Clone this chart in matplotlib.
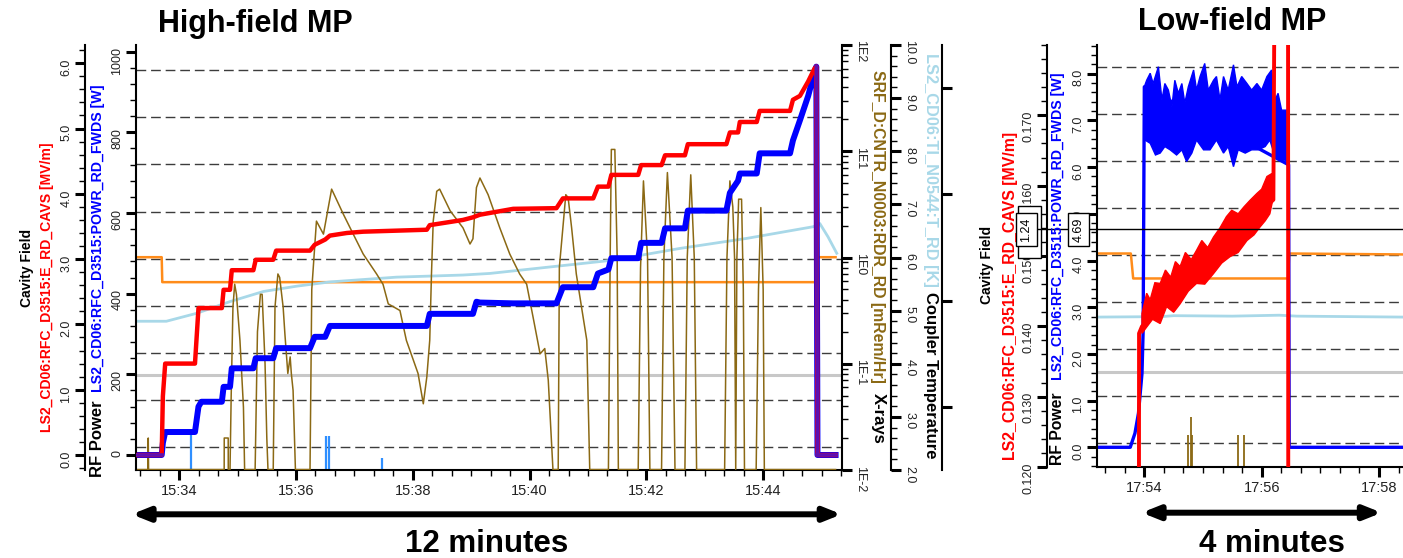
import numpy as np
import matplotlib.pyplot as plt
from matplotlib.lines import Line2D
from matplotlib.patches import FancyArrowPatch, Rectangle
from matplotlib.ticker import (MultipleLocator, FixedLocator, FuncFormatter,
                               LogLocator, NullFormatter, NullLocator)

plt.rcParams['font.family'] = ['Liberation Sans', 'DejaVu Sans']

# ---------------- High-field MP (time in minutes after 15:00) ----------------
hf_time = [33.27, 33.70, 33.72, 33.76, 34.27, 34.33, 34.38, 34.73, 34.76, 34.87, 34.90, 35.27, 35.31,
           35.61, 35.66, 36.24, 36.32, 36.50, 36.58, 36.87, 37.15, 38.24, 38.29, 38.86, 39.03, 39.09,
           39.15, 39.72, 40.46, 40.57, 41.09, 41.17, 41.35, 41.40, 41.86, 41.91, 42.26, 42.32, 42.66,
           42.71, 43.37, 43.43, 43.57, 43.60, 43.89, 43.94, 44.46, 44.51, 44.63, 44.77, 44.88, 44.91,
           44.93, 45.24]
hf_field = [0, 0, 0.9, 1.40, 1.40, 2.25, 2.25, 2.25, 2.53, 2.53, 2.83, 2.83, 2.99,
            2.99, 3.13, 3.13, 3.22, 3.30, 3.36, 3.40, 3.42, 3.45, 3.52, 3.60, 3.64, 3.66,
            3.68, 3.77, 3.78, 3.93, 3.93, 4.11, 4.11, 4.29, 4.29, 4.44, 4.44, 4.59, 4.59,
            4.76, 4.76, 4.94, 4.94, 5.10, 5.10, 5.27, 5.27, 5.44, 5.50, 5.72, 5.92, 5.95,
            0, 0]                                            # MV/m
hf_power = [0, 0, 30, 57, 57, 120, 132, 132, 169, 169, 215, 215, 240,
            240, 265, 265, 293, 293, 320, 320, 320, 320, 350, 350, 350, 380,
            378, 376, 376, 416, 416, 450, 460, 488, 488, 526, 526, 562, 562,
            606, 606, 650, 680, 698, 698, 748, 748, 780, 830, 890, 950, 963,
            0, 0]                                            # W

XRAY_FLOOR = 0.0101
B = XRAY_FLOOR
hf_xray_time = [33.27, 33.465, 33.47, 33.475, 34.77, 34.771, 34.839, 34.84,
                34.87, 34.89, 34.92, 34.95, 34.98, 35.04, 35.10, 35.12,
                35.30, 35.34, 35.39, 35.42, 35.47, 35.50, 35.52,
                35.61, 35.64, 35.69, 35.72, 35.78, 35.81, 35.86, 35.90, 35.92, 35.95, 35.99,
                36.24, 36.27, 36.35, 36.47, 36.61, 36.81, 36.98, 37.15, 37.38, 37.49, 37.58,
                37.78, 37.89, 38.01, 38.09, 38.18, 38.24, 38.29, 38.32, 38.35, 38.41, 38.46,
                38.64, 38.86, 38.98, 39.03, 39.09, 39.15, 39.29, 39.49, 39.66, 39.83, 39.95,
                40.06, 40.18, 40.26, 40.32, 40.40,
                40.49, 40.51, 40.57, 40.62, 40.66, 40.72, 40.80, 40.89, 40.98, 41.03,
                41.35, 41.38, 41.40, 41.46, 41.50, 41.52,
                41.86, 41.90, 41.95, 42.02, 42.06,
                42.26, 42.30, 42.36, 42.44, 42.49,
                42.66, 42.70, 42.76, 42.82, 42.86,
                43.34, 43.38, 43.43, 43.48, 43.51, 43.53, 43.55, 43.58, 43.63, 43.66, 43.68,
                43.88, 43.92, 43.96, 44.00, 44.02, 45.24]
hf_xray = [B, B, 0.020, B, B, 0.020, 0.020, B,
           B, 0.05, 0.34, 0.56, 0.45, 0.166, 0.039, B,
           B, 0.2, 0.45, 0.45, 0.1, 0.02, B,
           B, 0.34, 0.70, 0.65, 0.34, 0.19, 0.081, 0.116, 0.081, 0.056, B,
           B, 0.5, 2.2, 1.66, 4.4, 2.56, 1.66, 1.08, 0.70, 0.56, 0.366,
           0.317, 0.166, 0.108, 0.081, 0.042, 0.075, 0.166, 0.70, 2.2, 4.2, 4.4,
           2.75, 1.9, 1.34, 1.5, 4.55, 5.6, 3.9, 1.9, 1.08, 0.70, 0.56,
           0.274, 0.124, 0.139, 0.07, B,
           B, 0.81, 1.9, 3.9, 3.66, 1.9, 0.70, 0.34, 0.166, B,
           B, 1.0, 10.4, 10.4, 1.0, B,
           B, 0.8, 5.26, 1.0, B,
           B, 1.0, 6.3, 1.0, B,
           B, 1.0, 6.0, 1.0, B,
           B, 1.0, 5.26, 3.0, 1.0, B, 1.0, 3.54, 3.54, 0.5, B,
           B, 0.5, 2.95, 0.5, B, B]                          # mRem/Hr

hf_temp_time = [33.27, 33.78, 34.30, 34.87, 35.44, 36.01, 36.58, 37.72, 38.86, 39.32,
                41.43, 42.57, 43.72, 44.86, 44.97, 45.11, 45.26]
hf_temp = [4.80, 4.80, 4.95, 5.17, 5.36, 5.46, 5.54, 5.63, 5.67, 5.70,
           5.95, 6.17, 6.36, 6.58, 6.64, 6.39, 6.08]        # K

# unlabelled traces, in grid units (one unit per dashed grid line)
hf_orange_time = [33.27, 33.70, 33.71, 44.91, 44.93, 45.24]
hf_orange = [4.03, 4.03, 3.50, 3.50, 4.03, 4.03]
hf_gray = 1.53
hf_pulse_time = [34.21, 36.52, 36.56, 37.48]
hf_pulse = [0.325, 0.234, 0.234, -0.24]
hf_pulse_floor = -0.49

# ---------------- Low-field MP (time in minutes after 17:00) ----------------
lf_field_time = [53.19, 53.90, 53.91, 53.96, 56.20, 56.22, 56.45, 56.46, 58.41]
lf_field = [0.0, 0.0, 0.139, 0.140, 0.158, 0.19, 0.19, 0.0, 0.0]
lf_field_hi_time = [53.96, 54.04, 54.10, 54.18, 54.27, 54.36, 54.45, 54.53, 54.61, 54.70,
                    54.80, 54.89, 54.98, 55.08, 55.18, 55.29, 55.40, 55.49, 55.60, 55.70,
                    55.80, 55.92, 56.00, 56.09, 56.17, 56.20]
lf_field_hi = [0.1418, 0.1447, 0.1438, 0.1462, 0.1461, 0.1480, 0.1470, 0.1492, 0.1485, 0.1505,
               0.1495, 0.1508, 0.1522, 0.1512, 0.1527, 0.1540, 0.1556, 0.1565, 0.1560, 0.1570,
               0.1579, 0.1589, 0.1595, 0.1613, 0.1617, 0.1617]
lf_field_lo_time = [53.96, 54.04, 54.14, 54.27, 54.38, 54.50, 54.61, 54.75, 54.89, 55.03,
                    55.18, 55.32, 55.46, 55.60, 55.75, 55.87, 55.97, 56.06, 56.14, 56.20]
lf_field_lo = [0.1390, 0.1399, 0.1410, 0.1404, 0.1428, 0.1420, 0.1432, 0.1450, 0.1461, 0.1460,
               0.1475, 0.1490, 0.1499, 0.1505, 0.1522, 0.1530, 0.1541, 0.1550, 0.1560, 0.1584]

lf_power_time = [53.19, 53.76, 53.84, 53.90, 53.96, 53.98, 54.00, 56.46, 56.47, 58.41]
lf_power = [0.0, 0.0, 0.30, 0.73, 1.58, 2.51, 7.72, 6.05, 0.0, 0.0]
lf_power_hi_time = [54.00, 54.04, 54.10, 54.15, 54.24, 54.30, 54.35, 54.41, 54.47, 54.52,
                    54.58, 54.64, 54.69, 54.75, 54.84, 54.89, 54.95, 55.03, 55.09, 55.18,
                    55.23, 55.29, 55.35, 55.43, 55.52, 55.58, 55.66, 55.75, 55.83, 55.92,
                    56.00, 56.09, 56.17, 56.23, 56.28, 56.34, 56.43]
lf_power_hi = [7.72, 7.86, 8.01, 7.79, 8.15, 7.44, 7.79, 7.65, 7.29, 7.86,
               7.58, 7.79, 7.37, 7.72, 8.08, 7.65, 7.94, 8.22, 7.65, 7.86,
               7.94, 7.44, 7.94, 7.65, 8.19, 7.72, 7.94, 7.79, 7.65, 7.79,
               7.65, 7.94, 8.08, 7.44, 7.58, 7.22, 7.22]
lf_power_lo_time = [54.01, 54.10, 54.19, 54.27, 54.35, 54.44, 54.55, 54.64, 54.72, 54.81,
                    54.89, 55.01, 55.12, 55.23, 55.35, 55.43, 55.52, 55.60, 55.72, 55.83,
                    55.94, 56.06, 56.14, 56.23, 56.31, 56.40, 56.46]
lf_power_lo = [6.58, 6.51, 6.26, 6.30, 6.44, 6.37, 6.26, 6.37, 6.12, 6.30,
               6.58, 6.37, 6.37, 6.58, 6.30, 6.44, 6.01, 6.37, 6.30, 6.37,
               6.37, 6.44, 6.58, 6.22, 6.15, 6.15, 6.05]

lf_orange_time = [53.19, 53.77, 53.81, 56.45, 56.47, 58.41]
lf_orange = [4.03, 4.03, 3.50, 3.50, 4.03, 4.01]
lf_temp_time = [53.19, 54.30, 54.50, 55.50, 56.30, 56.60, 58.41]
lf_temp = [2.68, 2.69, 2.71, 2.70, 2.72, 2.70, 2.68]
lf_gray = 1.52
lf_xray_time = [54.74, 54.80, 54.82, 55.60, 55.70]
lf_xray = [0.18, 0.56, 0.18, 0.18, 0.18]
lf_xray_floor = -0.50

RED, BLUE, PURPLE = '#ff0000', '#0000ff', '#5e10b0'
BROWN, LIGHTBLUE, ORANGE = '#8b6914', '#a8d8e8', '#ff8c1a'
GRAY, PULSE, GRID = '#c8c8c8', '#2f8fff', '#3c3c3c'

W, H = 1403, 558
fig = plt.figure(figsize=(W / 100, H / 100), dpi=100)


def fx(x):
    return x / W


def fy(y):
    return 1 - y / H


def host_axes(x0, y0, x1, y1, xlim, hour):
    ax = fig.add_axes([fx(x0), fy(y1), (x1 - x0) / W, (y1 - y0) / H])
    ax.set_xlim(*xlim)
    for k in ('left', 'right', 'top'):
        ax.spines[k].set_visible(False)
    ax.spines['bottom'].set_linewidth(1.5)
    ax.xaxis.set_major_locator(MultipleLocator(2))
    ax.xaxis.set_minor_locator(MultipleLocator(1 / 3))
    ax.xaxis.set_major_formatter(FuncFormatter(lambda m, p: f"{hour}:{int(round(m)):02d}"))
    ax.tick_params(axis='x', which='major', length=7, width=2.2, labelsize=10.5, pad=3,
                   labelcolor='#222222')
    ax.tick_params(axis='x', which='minor', length=4.5, width=1)
    return ax


def twin(host, side, offset_px=0):
    a = host.twinx()
    for s in a.spines.values():
        s.set_visible(False)
    a.spines[side].set_visible(True)
    a.spines[side].set_position(('outward', offset_px * 0.72))
    a.spines[side].set_linewidth(1.5)
    a.yaxis.set_ticks_position(side)
    a.tick_params(axis='y', which='major', length=7, width=2.2, labelsize=9, pad=2,
                  labelrotation=90 if side == 'left' else -90, labelcolor='#222222')
    a.tick_params(axis='y', which='minor', length=4, width=1)
    return a


def vlabel(x, y, s, color='black', size=10, up=True, center=False):
    fig.text(fx(x), fy(y), s, color=color, fontsize=size, fontweight='bold',
             rotation=90 if up else -90, rotation_mode='anchor',
             ha='center' if center else 'left', va='center')


# ================= left chart =================
hf = host_axes(136, 45, 842, 470, (33.26, 45.35), 15)
hf.set_ylim(-0.488, 8.535)
for g in range(9):
    hf.axhline(g, color=GRID, lw=1.0, dashes=(7, 3.5), zorder=1)
hf.axhline(hf_gray, color=GRAY, lw=2.2)
hf.plot(hf_orange_time, hf_orange, color=ORANGE, lw=1.8)
hf.vlines(hf_pulse_time, hf_pulse_floor, hf_pulse, color=PULSE, lw=1.6)

h_temp = twin(hf, 'right', 49)
h_temp.set_ylim(2, 10)
h_temp.yaxis.set_major_locator(MultipleLocator(1))
h_temp.yaxis.set_minor_locator(MultipleLocator(0.2))
h_temp.yaxis.set_major_formatter(FuncFormatter(lambda v, p: f"{v:.1f}"))
h_temp.plot(hf_temp_time, hf_temp, color=LIGHTBLUE, lw=2)

h_far = twin(hf, 'right', 100)
h_far.set_ylim(0.408, 4.40)
h_far.yaxis.set_major_locator(FixedLocator([1, 2, 3, 4]))
h_far.yaxis.set_minor_locator(NullLocator())
h_far.tick_params(axis='y', labelright=False)

h_log = twin(hf, 'right', 0)
h_log.set_yscale('log')
h_log.set_ylim(0.01, 100)
h_log.yaxis.set_major_locator(LogLocator(base=10, numticks=10))
h_log.yaxis.set_minor_locator(LogLocator(base=10, subs=np.arange(2, 10), numticks=10))
h_log.yaxis.set_minor_formatter(NullFormatter())
h_log.yaxis.set_major_formatter(FuncFormatter(lambda v, p: f"1E{int(round(np.log10(v)))}"))
h_log.plot(hf_xray_time, hf_xray, color=BROWN, lw=1.1)

h_pow = twin(hf, 'left', 0)
h_pow.set_ylim(-37.2, 1016.6)
h_pow.yaxis.set_major_locator(MultipleLocator(200))
h_pow.yaxis.set_minor_locator(MultipleLocator(40))
h_pow.plot(hf_time, hf_power, color=BLUE, lw=4.3)

h_fld = twin(hf, 'left', 51)
h_fld.set_ylim(-0.2297, 6.279)
h_fld.yaxis.set_major_locator(MultipleLocator(1))
h_fld.yaxis.set_minor_locator(MultipleLocator(0.2))
h_fld.yaxis.set_major_formatter(FuncFormatter(lambda v, p: f"{v:.1f}"))
h_fld.plot(hf_time, hf_field, color=RED, lw=3.2)

# RF off: field and power both at zero -> traces overlap (purple)
t_arr, f_arr, p_arr = np.array(hf_time), np.array(hf_field), np.array(hf_power)
off = (f_arr == 0) & (p_arr == 0)
for i in range(len(t_arr) - 1):
    if off[i + 1]:
        h_fld.plot(t_arr[i:i + 2], f_arr[i:i + 2], color=PURPLE, lw=2.6)

hf.tick_params(axis='y', which='both', left=False, right=False, labelleft=False, labelright=False)

# ================= right chart =================
lf = host_axes(1096.7, 45, 1403, 467, (53.188, 58.41), 17)
lf.set_ylim(-0.503, 8.457)
for g in range(9):
    lf.axhline(g, color=GRID, lw=1.0, dashes=(7, 3.5), zorder=1)
lf.axhline(lf_gray, color=GRAY, lw=2.2)
lf.plot(lf_temp_time, lf_temp, color=LIGHTBLUE, lw=2)
lf.plot(lf_orange_time, lf_orange, color=ORANGE, lw=1.8)
lf.axhline(lf_xray_floor, color=BROWN, lw=1.2)
lf.vlines(lf_xray_time, lf_xray_floor, lf_xray, color=BROWN, lw=1.3)

l_pow = twin(lf, 'left', 0)
l_pow.set_ylim(-0.422, 8.615)
l_pow.yaxis.set_major_locator(MultipleLocator(1))
l_pow.yaxis.set_minor_locator(MultipleLocator(0.2))
l_pow.yaxis.set_major_formatter(FuncFormatter(lambda v, p: f"{v:.1f}"))
l_pow.fill(np.r_[lf_power_hi_time, lf_power_lo_time[::-1]],
           np.r_[lf_power_hi, lf_power_lo[::-1]], color=BLUE, lw=1)
l_pow.plot(lf_power_time, lf_power, color=BLUE, lw=2.4)

l_fld = twin(lf, 'left', 50)
l_fld.set_ylim(0.120, 0.180)
l_fld.yaxis.set_major_locator(FixedLocator([0.12, 0.13, 0.14, 0.15, 0.16, 0.17]))
l_fld.yaxis.set_minor_locator(MultipleLocator(0.002))
l_fld.yaxis.set_major_formatter(FuncFormatter(lambda v, p: f"{v:.3f}"))
l_fld.fill(np.r_[lf_field_hi_time, lf_field_lo_time[::-1]],
           np.r_[lf_field_hi, lf_field_lo[::-1]], color=RED, lw=1)
l_fld.plot(lf_field_time, lf_field, color=RED, lw=2.8)

lf.tick_params(axis='y', which='both', left=False, right=False, labelleft=False, labelright=False)

# cursor readout on the low-field chart
fig.add_artist(Line2D([fx(1038), 1.0], [fy(229.3), fy(229.3)], transform=fig.transFigure,
                      color='black', lw=1))
fig.add_artist(Rectangle((fx(1018), fy(258)), 23 / W, 52 / H, transform=fig.transFigure,
                         fc='white', ec='black', lw=1))
for x, s in [(1026.5, '1.24'), (1078.5, '4.69')]:
    fig.text(fx(x), fy(229.5), s, rotation=90, ha='center', va='center', fontsize=9,
             bbox=dict(boxstyle='square,pad=0.35', fc='white', ec='black', lw=1))

# ================= axis titles =================
vlabel(27, 268, 'Cavity Field', size=10, center=True)
vlabel(47, 432, 'LS2_CD06:RFC_D3515:E_RD_CAVS [MV/m]', color=RED, size=10.1)
vlabel(97, 477, 'RF Power', size=12)
vlabel(98, 392, 'LS2_CD06:RFC_D3515:POWR_RD_FWDS [W]', color=BLUE, size=10.2)
vlabel(878, 70, 'SRF_D:CNTR_N0003:RDR_RD [mRem/Hr]', color=BROWN, size=11.4, up=False)
vlabel(878, 393, 'X-rays', size=12, up=False)
vlabel(930, 53, 'LS2_CD06:TI_N0544:T_RD [K]', color=LIGHTBLUE, size=11.8, up=False)
vlabel(930, 292, 'Coupler Temperature', size=12, up=False)

vlabel(986.7, 265, 'Cavity Field', size=10, center=True)
vlabel(1010, 460, 'LS2_CD06:RFC_D3515:E_RD_CAVS [MV/m]', color=RED, size=11.4)
vlabel(1058, 465, 'RF Power', size=11.3)
vlabel(1058, 380, 'LS2_CD06:RFC_D3515:POWR_RD_FWDS [W]', color=BLUE, size=10.2)

fig.text(fx(255), fy(31.7), 'High-field MP', ha='center', va='baseline',
         fontsize=22, fontweight='bold')
fig.text(fx(1232), fy(30), 'Low-field MP', ha='center', va='baseline',
         fontsize=22, fontweight='bold')

# duration arrows
for xa, xb, y, label in [(131.7, 841.6, 514.3, '12 minutes'), (1141.7, 1381.7, 512.7, '4 minutes')]:
    fig.add_artist(FancyArrowPatch((fx(xa), fy(y)), (fx(xb), fy(y)), transform=fig.transFigure,
                                   arrowstyle='<|-|>,head_length=10,head_width=4',
                                   mutation_scale=1, lw=4.3, color='black',
                                   shrinkA=0, shrinkB=0))
    fig.text(fx((xa + xb) / 2 + (0 if label.startswith('12') else 10)), fy(551.7), label,
             ha='center', va='baseline', fontsize=22.5, fontweight='bold')

fig.savefig('out.png', dpi=100)
